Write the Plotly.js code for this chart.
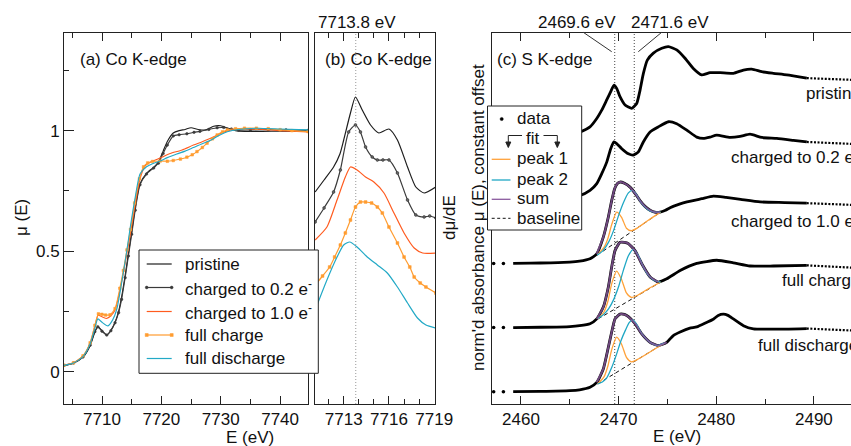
<!DOCTYPE html>
<html>
<head>
<meta charset="utf-8">
<script src="https://cdn.plot.ly/plotly-3.0.1.min.js"></script>
<style>
html,body{margin:0;padding:0;background:#fff;overflow:hidden;}
#chart{width:851px;height:446px;}
</style>
</head>
<body>
<div id="chart"></div>
<script>
// ================= DATA =================
const seriesNames = ['pristine', 'charged to 0.2 e<sup>-</sup>', 'charged to 1.0 e<sup>-</sup>', 'full charge', 'full discharge'];

// ---- (a) Co K-edge, normalized mu(E)
const aPrisE = [7703.6,7705.2,7706.8,7708.0,7708.8,7709.3,7710.0,7710.8,7711.5,7712.2,7712.8,7713.3,7713.9,7714.45,7715.0,7715.6,7716.4,7717.5,7718.7,7719.5,7720.3,7721.0,7722.0,7723.0,7724.0,7725.0,7726.2,7727.5,7728.8,7730.0,7731.2,7732.5,7734.0,7737.0,7740.0,7744.7];
const aPrisMu = [0.025,0.035,0.06,0.108,0.165,0.187,0.17,0.153,0.172,0.205,0.25,0.31,0.40,0.49,0.58,0.68,0.78,0.823,0.848,0.87,0.915,0.955,0.99,1.0,1.005,1.012,1.005,1.003,1.018,1.02,1.01,1.0,0.997,0.997,0.998,0.997];
const a02E = [7703.6,7705.2,7706.8,7708.0,7708.8,7709.3,7710.0,7710.8,7711.5,7712.2,7712.8,7713.3,7713.9,7714.45,7715.0,7715.6,7716.4,7717.5,7718.7,7719.5,7720.3,7721.0,7722.0,7723.0,7724.3,7725.5,7726.5,7728.0,7729.4,7730.5,7731.8,7733.0,7735.0,7738.0,7741.0,7744.7];
const a02Mu = [0.026,0.036,0.061,0.11,0.166,0.186,0.168,0.152,0.17,0.203,0.245,0.30,0.39,0.48,0.57,0.67,0.775,0.82,0.845,0.865,0.905,0.94,0.978,0.983,0.987,0.993,0.997,1.005,1.012,1.013,1.007,1.002,1.003,1.004,1.003,1.001];
const a10E = [7703.6,7705.2,7706.8,7708.0,7708.8,7709.35,7710.0,7710.8,7711.5,7712.2,7713.0,7713.9,7714.7,7715.5,7716.4,7717.3,7718.2,7719.2,7720.3,7721.5,7723.5,7725.4,7726.8,7728.3,7729.7,7731.1,7732.5,7734.5,7737.0,7740.0,7744.7];
const a10Mu = [0.027,0.037,0.065,0.118,0.19,0.234,0.228,0.221,0.232,0.256,0.335,0.45,0.56,0.68,0.80,0.855,0.87,0.88,0.892,0.905,0.92,0.94,0.953,0.968,0.985,0.999,1.005,1.007,1.005,1.0,0.995];
const aFCE = [7703.6,7705.2,7706.8,7708.0,7708.8,7709.4,7710.0,7710.6,7711.35,7712.2,7713.0,7713.6,7714.2,7714.8,7715.5,7716.3,7717.0,7717.7,7718.5,7719.8,7721.0,7722.0,7723.2,7724.3,7725.2,7726.0,7726.9,7727.7,7728.6,7729.4,7730.3,7731.1,7732.5,7734.0,7736.0,7738.0,7740.0,7742.0,7744.7];
const aFCMu = [0.027,0.037,0.066,0.12,0.192,0.24,0.238,0.235,0.236,0.262,0.346,0.42,0.505,0.59,0.70,0.80,0.85,0.866,0.872,0.874,0.873,0.876,0.882,0.89,0.90,0.913,0.93,0.948,0.966,0.982,0.995,1.003,1.008,1.01,1.01,1.008,1.004,1.0,0.996];
const aFDE = [7703.6,7705.2,7706.8,7708.0,7708.8,7709.3,7710.0,7711.0,7711.8,7712.5,7713.3,7714.2,7714.7,7715.5,7716.4,7717.5,7718.5,7719.8,7721.0,7722.6,7724.0,7725.4,7726.8,7728.3,7729.7,7731.1,7733.0,7736.0,7740.0,7744.7];
const aFDMu = [0.026,0.036,0.063,0.115,0.18,0.219,0.205,0.19,0.215,0.26,0.367,0.505,0.59,0.71,0.82,0.85,0.863,0.874,0.888,0.903,0.915,0.93,0.945,0.96,0.98,0.995,1.005,1.01,1.007,1.003];

// ---- (b) Co K-edge derivative dmu/dE (arbitrary units, offset)
const bPrisE = [7711.11,7711.7,7712.33,7712.75,7713.0,7713.45,7713.78,7714.23,7714.78,7715.33,7716.0,7716.56,7717.23,7717.78,7718.33,7719.11];
const bPrisY = [2.12,2.24,2.37,2.50,2.64,2.91,3.07,2.94,2.79,2.71,2.75,2.64,2.37,2.17,2.11,2.17];
const b02E = [7711.11,7711.7,7712.33,7712.78,7713.33,7713.78,7714.11,7714.45,7714.89,7715.23,7715.6,7716.0,7716.56,7717.23,7717.78,7718.33,7718.7,7719.11];
const b02Y = [1.82,1.96,2.12,2.34,2.72,2.79,2.72,2.57,2.47,2.44,2.44,2.44,2.31,2.04,1.89,1.87,1.88,1.86];
const b10E = [7711.11,7711.89,7712.56,7713.11,7713.45,7713.89,7714.45,7715.0,7715.67,7716.33,7717.0,7717.67,7718.23,7719.11];
const b10Y = [1.64,1.77,2.04,2.27,2.37,2.34,2.27,2.22,2.11,1.91,1.71,1.56,1.51,1.51];
const bFCE = [7711.11,7711.6,7712.07,7712.4,7712.78,7713.11,7713.45,7713.78,7714.11,7714.45,7714.85,7715.23,7715.56,7716.0,7716.56,7717.0,7717.38,7717.67,7718.07,7718.45,7719.11];
const bFCY = [1.19,1.28,1.37,1.47,1.59,1.71,1.84,1.97,2.02,2.02,2.01,1.97,1.91,1.77,1.61,1.47,1.37,1.27,1.21,1.17,1.11];
const bFDE = [7711.11,7711.89,7712.56,7713.0,7713.4,7713.89,7714.56,7715.23,7715.89,7716.56,7717.23,7717.89,7718.45,7719.11];
const bFDY = [0.94,1.24,1.47,1.59,1.62,1.57,1.47,1.39,1.31,1.17,1.01,0.86,0.79,0.76];
const coEdgeMarker = 7713.8;

// ---- (c) S K-edge, normalized absorbance (offset applied when drawn)
const cOffsets = [4, 3, 2, 1, 0];
const cPrisE = [2457.2,2458.2,2459.2,2461.0,2463.0,2465.0,2466.05,2467.07,2467.76,2468.27,2468.78,2469.19,2469.53,2469.8,2470.14,2470.66,2471.34,2471.85,2472.19,2472.53,2472.94,2473.56,2474.42,2475.1,2475.95,2476.8,2477.65,2478.5,2479.36,2480.39,2481.75,2482.78,2483.64,2484.66,2485.85,2487.22,2489.27,2494.5];
const cPrisY = [0,0,0,0.003,0.008,0.016,0.05,0.13,0.26,0.39,0.55,0.68,0.78,0.73,0.60,0.47,0.42,0.495,0.70,0.96,1.17,1.28,1.355,1.38,1.33,1.20,1.04,0.94,0.975,0.975,0.965,1.016,1.03,0.99,0.965,0.94,0.89,0.86];
const c02E = [2457.2,2458.2,2459.2,2461.0,2463.0,2465.0,2466.05,2467.07,2467.76,2468.27,2468.78,2469.19,2469.53,2469.8,2470.32,2471.0,2471.5,2472.02,2472.53,2473.22,2474.07,2475.1,2475.95,2476.98,2478.0,2478.68,2479.36,2480.05,2481.41,2482.44,2483.46,2484.66,2486.2,2487.9,2489.27,2494.5];
const c02Y = [0,0,0,0.005,0.012,0.036,0.06,0.14,0.245,0.40,0.58,0.79,0.895,0.87,0.79,0.71,0.69,0.74,0.895,1.05,1.13,1.21,1.18,1.08,0.97,0.95,0.97,1.0,0.965,0.98,1.016,0.965,0.95,0.92,0.895,0.86];
const c10E = [2457.2,2458.2,2459.2,2461.0,2463.0,2465.0,2466.0,2467.07,2467.76,2468.43,2468.94,2469.29,2469.6,2469.9,2470.14,2470.6,2471.17,2471.7,2472.19,2472.7,2473.22,2473.7,2474.24,2474.8,2475.27,2476.3,2477.0,2478.5,2479.7,2481.0,2482.5,2484.5,2487.0,2489.27,2494.5];
const c10Y = [0,0,0,0.004,0.01,0.02,0.035,0.073,0.15,0.41,0.72,0.98,1.17,1.25,1.27,1.25,1.19,1.09,0.98,0.89,0.83,0.80,0.80,0.83,0.87,0.93,0.96,1.01,1.05,1.03,1.0,0.96,0.95,0.94,0.91];
const cFCE = [2457.2,2458.2,2459.2,2462.0,2465.02,2466.0,2467.07,2467.76,2468.43,2468.94,2469.29,2469.63,2470.14,2470.6,2471.0,2471.68,2472.37,2473.22,2474.07,2474.93,2476.3,2478.0,2480.05,2481.75,2483.46,2485.85,2489.27,2494.5];
const cFCY = [0,0,0,0.005,0.016,0.03,0.06,0.135,0.32,0.63,0.945,1.2,1.33,1.33,1.31,1.2,0.995,0.79,0.71,0.76,0.89,1.0,1.05,1.01,0.96,0.96,0.97,0.93];
const cFDE = [2457.2,2458.2,2459.2,2462.0,2465.02,2466.0,2467.07,2467.76,2468.43,2468.94,2469.29,2469.63,2470.14,2470.6,2471.0,2471.68,2472.37,2473.22,2474.07,2474.93,2475.6,2476.3,2477.3,2478.0,2479.0,2479.7,2480.2,2480.73,2481.2,2481.75,2482.78,2483.8,2485.85,2489.27,2494.5];
const cFDY = [0,0,0,0.004,0.016,0.03,0.07,0.145,0.355,0.69,0.93,1.135,1.21,1.205,1.17,1.06,0.90,0.77,0.72,0.77,0.875,0.93,0.99,1.01,1.08,1.13,1.19,1.21,1.19,1.135,1.03,0.98,0.975,0.985,0.95];

// fits (for 1.0 e-, full charge, full discharge)
const base10E = [2467.8, 2474.3],  base10Y = [0.13, 0.80];
const baseFCE = [2467.9, 2474.3],  baseFCY = [0.135, 0.71];
const baseFDE = [2467.85, 2474.7], baseFDY = [0.12, 0.76];
const p1_10E = [2467.8,2468.5,2468.9,2469.3,2469.8,2470.3,2470.8,2471.3,2471.9,2473.0,2474.3];
const p1_10Y = [0.13,0.25,0.39,0.61,0.80,0.72,0.55,0.51,0.55,0.67,0.80];
const p1_FCE = [2467.9,2468.5,2468.9,2469.3,2469.8,2470.3,2470.8,2471.3,2471.9,2473.0,2474.3];
const p1_FCY = [0.135,0.243,0.41,0.69,0.88,0.75,0.54,0.47,0.50,0.60,0.71];
const p1_FDE = [2467.85,2468.5,2468.9,2469.3,2469.8,2470.3,2470.8,2471.3,2471.9,2473.0,2474.7];
const p1_FDY = [0.12,0.23,0.40,0.66,0.85,0.74,0.535,0.466,0.50,0.60,0.76];
const p2_10E = [2467.8,2468.4,2469.0,2469.5,2470.0,2470.5,2471.0,2471.4,2471.8,2472.2,2472.7,2473.2,2473.7,2474.3];
const p2_10Y = [0.13,0.20,0.34,0.52,0.75,0.95,1.10,1.14,1.08,0.97,0.88,0.82,0.80,0.80];
const p2_FCE = [2467.9,2468.5,2469.0,2469.5,2470.0,2470.5,2471.0,2471.5,2472.0,2472.4,2472.8,2473.2,2473.7,2474.3];
const p2_FCY = [0.14,0.21,0.30,0.44,0.64,0.90,1.12,1.22,1.13,0.99,0.87,0.79,0.73,0.71];
const p2_FDE = [2467.85,2468.4,2468.8,2469.3,2469.8,2470.2,2470.7,2471.1,2471.45,2471.8,2472.4,2473.2,2474.0,2474.7];
const p2_FDY = [0.12,0.16,0.22,0.38,0.59,0.78,0.96,1.08,1.12,1.06,0.90,0.77,0.72,0.76];
const sKedgeMarkers = [2469.6, 2471.6];

// ================= STYLE / LAYOUT =================
const FONT = 'Liberation Sans, Arial, Helvetica, sans-serif';
const W = 851, H = 446;
const PX = v => v / W, PY = v => 1 - v / H;
const C_PRIS = '#1e1e1e', C_02 = '#3a3a3a', C_10 = '#ff5b1f', C_FC = '#ff9c30', C_FD = '#22a9c6';
const C_P1 = '#ffa23a', C_P2 = '#1fa7c4', C_SUM = '#8b5a9f';
const AX = '#222';

const traces = [];

function curveTrace(E, y, xa, ya, color, width, msym, msize, mfill, mline) {
  const t = {x: E, y: y, xaxis: xa, yaxis: ya, type: 'scatter', mode: 'lines', showlegend: false,
    line: {color: color, width: width, shape: 'spline', smoothing: 0.6}, hoverinfo: 'skip'};
  if (msym) {
    t.mode = 'lines+markers';
    t.marker = {symbol: msym, size: msize, color: mfill, line: {color: mline, width: 0.5}};
  }
  return t;
}

// (a)
const aSets = [
  {E: aPrisE, y: aPrisMu, c: C_PRIS, m: null},
  {E: a02E, y: a02Mu, c: C_02, m: 'circle'},
  {E: a10E, y: a10Mu, c: C_10, m: null},
  {E: aFCE, y: aFCMu, c: C_FC, m: 'square'},
  {E: aFDE, y: aFDMu, c: C_FD, m: null}
];
aSets.forEach(s => traces.push(curveTrace(s.E, s.y, 'x', 'y', s.c, 1.1, s.m, 2.6, s.c, s.c)));

// (b)
const bSets = [
  {E: bPrisE, y: bPrisY, c: C_PRIS, m: null},
  {E: b02E, y: b02Y, c: C_02, m: 'circle'},
  {E: b10E, y: b10Y, c: C_10, m: null},
  {E: bFCE, y: bFCY, c: C_FC, m: 'square'},
  {E: bFDE, y: bFDY, c: C_FD, m: null}
];
bSets.forEach(s => traces.push(curveTrace(s.E, s.y, 'x2', 'y2', s.c, 1.2, s.m, 2.8,
  s.m === 'circle' ? '#666' : s.c, s.m === 'circle' ? '#222' : s.c)));

// (c)
const cSets = [
  {E: cPrisE, y: cPrisY}, {E: c02E, y: c02Y}, {E: c10E, y: c10Y}, {E: cFCE, y: cFCY}, {E: cFDE, y: cFDY}
];
const cFits = {
  2: {bE: base10E, bY: base10Y, p1E: p1_10E, p1Y: p1_10Y, p2E: p2_10E, p2Y: p2_10Y},
  3: {bE: baseFCE, bY: baseFCY, p1E: p1_FCE, p1Y: p1_FCY, p2E: p2_FCE, p2Y: p2_FCY},
  4: {bE: baseFDE, bY: baseFDY, p1E: p1_FDE, p1Y: p1_FDY, p2E: p2_FDE, p2Y: p2_FDY}
};
const TAIL_START = 2489.27, DENSE_START = 2459.0;
cSets.forEach((s, i) => {
  const off = cOffsets[i];
  const Y = s.y.map(v => v + off);
  const sparseX = [], sparseY = [], mainX = [], mainY = [], tailX = [], tailY = [];
  s.E.forEach((e, k) => {
    if (e < DENSE_START) { sparseX.push(e); sparseY.push(Y[k]); }
    else {
      if (e <= TAIL_START) { mainX.push(e); mainY.push(Y[k]); }
      if (e >= TAIL_START) { tailX.push(e); tailY.push(Y[k]); }
    }
  });
  traces.push({x: sparseX, y: sparseY, xaxis: 'x3', yaxis: 'y3', type: 'scatter', mode: 'markers', showlegend: false,
    marker: {color: '#000', size: 3.6}, hoverinfo: 'skip'});
  traces.push({x: mainX, y: mainY, xaxis: 'x3', yaxis: 'y3', type: 'scatter', mode: 'lines', showlegend: false,
    line: {color: '#000', width: 2.8, shape: 'spline', smoothing: 0.5}, hoverinfo: 'skip'});
  traces.push({x: tailX, y: tailY, xaxis: 'x3', yaxis: 'y3', type: 'scatter', mode: 'lines', showlegend: false,
    line: {color: '#000', width: 2.2, dash: '2px,1.6px'}, hoverinfo: 'skip'});
  const f = cFits[i];
  if (f) {
    traces.push({x: f.bE, y: f.bY.map(v => v + off), xaxis: 'x3', yaxis: 'y3', type: 'scatter', mode: 'lines', showlegend: false,
      line: {color: '#111', width: 1, dash: '4px,3px'}, hoverinfo: 'skip'});
    traces.push({x: f.p1E, y: f.p1Y.map(v => v + off), xaxis: 'x3', yaxis: 'y3', type: 'scatter', mode: 'lines', showlegend: false,
      line: {color: C_P1, width: 1.3, shape: 'spline', smoothing: 0.6}, hoverinfo: 'skip'});
    traces.push({x: f.p2E, y: f.p2Y.map(v => v + off), xaxis: 'x3', yaxis: 'y3', type: 'scatter', mode: 'lines', showlegend: false,
      line: {color: C_P2, width: 1.3, shape: 'spline', smoothing: 0.6}, hoverinfo: 'skip'});
    const sx = [], sy = [];
    s.E.forEach((e, k) => { if (e >= f.bE[0] - 0.3 && e <= f.bE[1] + 0.3) { sx.push(e); sy.push(Y[k]); } });
    traces.push({x: sx, y: sy, xaxis: 'x3', yaxis: 'y3', type: 'scatter', mode: 'lines', showlegend: false,
      line: {color: C_SUM, width: 2, shape: 'spline', smoothing: 0.5}, opacity: 0.8, hoverinfo: 'skip'});
  }
});

// ---- axes
const tickfont = {family: FONT, size: 17, color: '#111'};
const yDom = [1 - 404 / H, 1 - 33 / H];
function xAx(domain, range, vals, minorDtick, minorTick0, anchor) {
  return {domain: domain, range: range, anchor: anchor, tickmode: 'array', tickvals: vals, ticktext: vals.map(String),
    ticks: 'inside', ticklen: 8, tickwidth: 1, tickcolor: AX, showline: true, linecolor: AX, linewidth: 1,
    mirror: 'ticks', showgrid: false, zeroline: false, tickfont: tickfont,
    minor: {tick0: minorTick0, dtick: minorDtick, ticks: 'inside', ticklen: 5, tickcolor: AX, tickwidth: 1, showgrid: false}};
}
const layout = {
  width: W, height: H, margin: {l: 0, r: 0, t: 0, b: 0}, paper_bgcolor: '#fff', plot_bgcolor: '#fff',
  font: {family: FONT, size: 17, color: '#111'}, showlegend: false,
  xaxis: xAx([64 / W, 308 / W], [7703.6, 7744.7], [7710, 7720, 7730, 7740], 5, 7705, 'y'),
  xaxis2: xAx([315 / W, 435 / W], [7711.1, 7719.05], [7713, 7716, 7719], 1, 7711, 'y2'),
  xaxis3: xAx([491.7 / W, 1], [2457.0, 2493.8], [2460, 2470, 2480, 2490], 5, 2455, 'y3'),
  yaxis: {domain: yDom, range: [-0.134, 1.405], anchor: 'x', tickmode: 'array', tickvals: [0, 0.5, 1], ticktext: ['0', '0.5', '1'],
    ticks: 'inside', ticklen: 10, tickcolor: AX, showline: true, linecolor: AX, linewidth: 1, mirror: true,
    showgrid: false, zeroline: false, tickfont: tickfont,
    minor: {tick0: 0, dtick: 0.25, ticks: 'inside', ticklen: 5, tickcolor: AX, showgrid: false}},
  yaxis2: {domain: yDom, range: [0, 3.71], anchor: 'x2', showticklabels: false, ticks: '', showline: true,
    linecolor: AX, linewidth: 1, mirror: true, showgrid: false, zeroline: false},
  yaxis3: {domain: yDom, range: [-0.192, 5.594], anchor: 'x3', showticklabels: false, ticks: '', showline: true,
    linecolor: AX, linewidth: 1, mirror: false, showgrid: false, zeroline: false},
  shapes: [], annotations: []
};

// ---- marker lines
layout.shapes.push({type: 'line', xref: 'x2', yref: 'y2 domain', x0: coEdgeMarker, x1: coEdgeMarker, y0: 0, y1: 1,
  line: {color: '#999', width: 1, dash: '1px,2px'}, layer: 'below'});
sKedgeMarkers.forEach(e => layout.shapes.push({type: 'line', xref: 'x3', yref: 'y3 domain', x0: e, x1: e, y0: 0, y1: 1,
  line: {color: '#444', width: 1, dash: '1px,2px'}, layer: 'below'}));

// ---- helpers for paper-pixel shapes/text
function pLine(x0, y0, x1, y1, color, width, dash) {
  layout.shapes.push({type: 'line', xref: 'paper', yref: 'paper', x0: PX(x0), y0: PY(y0), x1: PX(x1), y1: PY(y1),
    line: {color: color, width: width, dash: dash || 'solid'}, layer: 'above'});
}
function pRect(x0, y0, x1, y1, fill, lineColor, lw) {
  layout.shapes.push({type: 'rect', xref: 'paper', yref: 'paper', x0: PX(x0), y0: PY(y1), x1: PX(x1), y1: PY(y0),
    fillcolor: fill, line: {color: lineColor, width: lw}, layer: 'above'});
}
function pCircle(cx, cy, r, color) {
  layout.shapes.push({type: 'circle', xref: 'paper', yref: 'paper', x0: PX(cx - r), x1: PX(cx + r), y0: PY(cy + r), y1: PY(cy - r),
    fillcolor: color, line: {color: color, width: 0.5}, layer: 'above'});
}
function pPath(d, fill) {
  layout.shapes.push({type: 'path', xref: 'paper', yref: 'paper', path: d, fillcolor: fill || 'rgba(0,0,0,0)',
    line: {color: '#222', width: 1}, layer: 'above'});
}
const pp = (x, y) => PX(x) + ',' + PY(y);
function txt(text, x, y, opts) {
  layout.annotations.push(Object.assign({text: text, xref: 'paper', yref: 'paper', x: PX(x), y: PY(y), showarrow: false,
    xanchor: 'left', yanchor: 'middle', font: {family: FONT, size: 17, color: '#111'}}, opts || {}));
}

// ---- legend (a)
pRect(139, 250, 318.3, 373.3, '#fff', '#222', 1);
const legRowsY = [264, 287.5, 311.5, 335, 358.5];
const legCols = [C_PRIS, C_02, C_10, C_FC, C_FD];
legRowsY.forEach((yy, i) => {
  pLine(146.7, yy, 171.7, yy, legCols[i], 1.2);
  txt(seriesNames[i], 183, yy);
});
[146.7, 171.7].forEach(xx => pCircle(xx, legRowsY[1], 1.4, C_02));
[146.7, 171.7].forEach(xx => pRect(xx - 1.5, legRowsY[3] - 1.5, xx + 1.5, legRowsY[3] + 1.5, C_FC, C_FC, 0.5));

// ---- legend (c)
pRect(487.5, 106, 581.7, 230, '#fff', '#222', 1);
pCircle(501.7, 119, 1.6, '#000');
txt('data', 515, 118.5);
txt('fit', 532.5, 138.5, {xanchor: 'center'});
pPath('M' + pp(522, 135.5) + ' L' + pp(508.3, 135.5) + ' L' + pp(508.3, 143));
pPath('M' + pp(505.8, 142) + ' L' + pp(510.8, 142) + ' L' + pp(508.3, 147.5) + ' Z', '#222');
pPath('M' + pp(543.5, 135.5) + ' L' + pp(557.3, 135.5) + ' L' + pp(557.3, 143));
pPath('M' + pp(554.8, 142) + ' L' + pp(559.8, 142) + ' L' + pp(557.3, 147.5) + ' Z', '#222');
pLine(491.7, 159.3, 510.5, 159.3, C_P1, 1.3);  txt('peak 1', 515, 158.5);
pLine(491.7, 180, 510.5, 180, C_P2, 1.3);      txt('peak 2', 515, 179.5);
pLine(491.7, 199.3, 510.5, 199.3, C_SUM, 1.3); txt('sum', 515, 198.5);
pLine(491.7, 218.3, 510.5, 218.3, '#111', 1, '3px,2.5px'); txt('baseline', 515, 218);

// ---- panel labels & spectrum labels
txt('(a) Co K-edge', 77.5, 59.5);
txt('(b) Co K-edge', 322.5, 59.5);
txt('(c) S K-edge', 495, 59.5);
txt(coEdgeMarker.toFixed(1) + ' eV', 357, 22.5, {xanchor: 'center'});
txt(sKedgeMarkers[0].toFixed(1) + ' eV', 576.7, 22.5, {xanchor: 'center'});
txt(sKedgeMarkers[1].toFixed(1) + ' eV', 670, 22.5, {xanchor: 'center'});
pLine(583.3, 32.3, 611.7, 51.7, '#333', 1);
pLine(661.7, 32.3, 638.3, 51.7, '#333', 1);
txt(seriesNames[0], 804, 93.5);
txt(seriesNames[1], 729.3, 156);
txt(seriesNames[2], 729.3, 220.5);
txt(seriesNames[3], 780, 280.5);
txt(seriesNames[4], 756, 345.5);

// ---- axis titles
txt('μ (E)', 21, 218, {xanchor: 'center', textangle: -90});
txt('E (eV)', 249.5, 437, {xanchor: 'center'});
txt('E (eV)', 677, 436.5, {xanchor: 'center'});
txt('dμ/dE', 449, 218, {xanchor: 'center', textangle: -90});
txt("norm'd absorbance μ (E), constant offset", 478, 218, {xanchor: 'center', textangle: -90});

Plotly.newPlot('chart', traces, layout, {staticPlot: true, displayModeBar: false});
</script>
</body>
</html>
